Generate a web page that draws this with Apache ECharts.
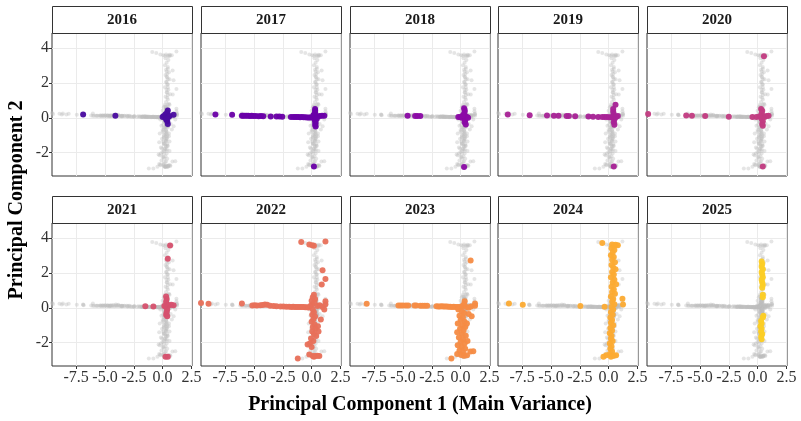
<!DOCTYPE html>
<html>
<head>
<meta charset="utf-8">
<script src="https://cdn.jsdelivr.net/npm/echarts@6/dist/echarts.min.js"></script>
<style>
  html, body { margin: 0; padding: 0; background: #fff; }
  #chart { width: 801px; height: 421px; }
</style>
</head>
<body>
<div id="chart"></div>
<script>
// facet labels and their colours
const years = ['2016', '2017', '2018', '2019', '2020', '2021', '2022', '2023', '2024', '2025'];
const yearColors = ['#4a0ca0', '#6a00a8', '#8b0aa5', '#a82296', '#c23b81', '#d6516e', '#e8705a', '#f68c45', '#fcab33', '#fcce25'];
const xTicks = [-7.5, -5, -2.5, 0, 2.5];
const yTicks = [-2, 0, 2, 4];

// [PC1, PC2] per year
const pts2016 = [[-6.9,0.19],[-4.1,0.12],[0.95,0.17],[0.1,0.1],[0.2,0.05],[0.3,0.0],[0.35,0.15],[0.4,0.3],[0.45,0.42],
  [0.3,-0.1],[0.4,-0.2],[0.45,-0.35],[0.25,0.2],[0.5,0.05],[0.6,0.1],[0.0,0.05],[0.35,-0.05]];
const pts2017 = [[-8.35,0.19],[-6.9,0.17],[-6.05,0.12],[-5.95,0.12],[-5.8,0.11],[-5.65,0.12],[-5.5,0.11],[-5.35,0.1],
  [-5.2,0.11],[-5.05,0.1],[-4.85,0.1],[-4.6,0.09],[-4.4,0.1],[-4.2,0.09],[-3.55,0.08],[-3.05,0.07],[-2.8,0.07],
  [-2.55,0.06],[-1.8,0.05],[-1.6,0.05],[-1.45,0.04],[-1.3,0.05],[-1.15,0.04],[-1.0,0.03],[-0.85,0.04],[-0.7,0.03],
  [-0.55,0.03],[-0.4,0.02],[-0.25,0.02],[-0.1,0.02],[0.05,0.01],[0.2,0.0],[0.35,0.05],[0.5,0.08],[0.7,0.1],
  [0.9,0.12],[1.1,0.12],[0.3,0.5],[0.3,0.4],[0.3,0.3],[0.25,0.2],[0.3,-0.1],[0.3,-0.2],[0.35,-0.3],[0.3,-0.4],
  [0.35,-0.5],[0.15,0.15],[0.45,-0.05],[0.2,-2.78]];
const pts2018 = [[-4.6,0.11],[-3.95,0.1],[-3.75,0.1],[-3.5,0.1],[-0.2,0.05],[-0.05,0.05],[0.1,0.0],[0.3,0.55],
  [0.35,0.45],[0.35,0.35],[0.3,0.2],[0.4,0.1],[0.35,-0.05],[0.4,-0.15],[0.35,-0.25],[0.45,-0.38],[0.55,0.05],
  [0.65,0.0],[0.2,0.15],[0.3,-2.82]];
const pts2019 = [[-8.75,0.19],[-6.85,0.15],[-5.35,0.13],[-4.75,0.12],[-4.35,0.11],[-3.65,0.1],[-3.45,0.1],[-2.9,0.09],
  [-1.75,0.07],[-1.35,0.06],[-0.9,0.05],[-0.55,0.05],[-0.35,0.04],[-0.15,0.04],[0.05,0.03],[0.25,0.03],[0.4,0.5],
  [0.4,0.35],[0.45,0.2],[0.4,0.05],[0.5,-0.1],[0.45,-0.25],[0.5,-0.4],[0.6,0.75],[0.8,0.1],[0.65,0.05],[0.45,-2.78]];
const pts2020 = [[-9.5,0.21],[-6.2,0.13],[-5.7,0.12],[-4.55,0.1],[-2.5,0.06],[-0.45,0.04],[-0.1,0.04],[0.55,3.52],
  [0.3,0.5],[0.4,0.4],[0.35,0.25],[0.45,0.1],[0.35,-0.05],[0.45,-0.2],[0.4,-0.35],[0.45,-0.45],[0.6,0.05],
  [0.8,0.1],[0.95,0.12],[0.15,0.08],[0.45,-2.78]];
const pts2021 = [[0.65,3.56],[0.45,2.8],[-1.5,0.09],[-0.8,0.07],[0.3,0.65],[0.35,0.5],[0.3,0.35],[0.35,0.2],[0.3,0.05],
  [0.4,-0.1],[0.35,-0.25],[0.3,-0.4],[0.4,-0.48],[0.55,0.15],[0.75,0.18],[0.95,0.15],[0.15,0.1],[0.25,-2.8],[0.45,-2.8]];
const pts2022 = [[-9.6,0.27],[-8.95,0.23],[-6.05,0.25],[-5.15,0.13],[-4.95,0.14],[-4.75,0.13],[-4.45,0.14],[-4.25,0.16],
  [-4.05,0.19],[-3.85,0.18],[-3.6,0.12],[-3.3,0.1],[-3.05,0.09],[-2.7,0.08],[-2.45,0.07],[-2.2,0.06],[-1.95,0.06],
  [-1.75,0.05],[-1.6,0.06],[-1.45,0.05],[-1.3,0.05],[-1.15,0.04],[-1.0,0.05],[-0.85,0.04],[-0.7,0.04],[-0.55,0.03],
  [-0.4,0.03],[-0.25,0.02],[-0.1,0.1],[0.05,0.2],[0.5,0.1],[0.7,0.15],[0.95,0.05],[1.2,0.2],[1.2,0.38],[1.1,-0.1],
  [-0.9,3.77],[-0.2,3.62],[0.05,3.58],[0.2,3.55],[1.2,3.79],[0.95,2.15],[1.2,1.65],[0.88,1.33],[0.2,0.75],[0.1,0.6],
  [0.3,0.5],[0.0,0.4],[0.25,0.3],[0.1,-0.1],[0.2,-0.25],[0.05,-0.4],[0.3,-0.5],[0.15,-0.65],[0.0,-0.8],[0.25,-0.95],
  [0.1,-1.1],[0.35,-1.2],[0.05,-1.35],[0.2,-1.5],[0.4,-1.62],[-0.05,-1.75],[0.15,-1.9],[-0.15,-2.05],[-0.35,-2.1],
  [0.0,-2.25],[0.8,-0.67],[0.55,-1.05],[0.6,-1.35],[-1.2,-2.9],[-0.2,-2.67],[0.1,-2.76],[0.3,-2.76],[0.5,-2.75],
  [0.67,-2.76],[0.2,-2.8]];
const pts2023 = [[-8.15,0.23],[-5.4,0.13],[-5.2,0.13],[-5.0,0.13],[-4.75,0.13],[-4.55,0.13],[-4.0,0.13],[-3.85,0.13],
  [-3.5,0.12],[-3.3,0.12],[-3.1,0.12],[-2.9,0.11],[-2.1,0.09],[-1.95,0.08],[-1.8,0.08],[-1.65,0.09],[-1.5,0.08],
  [-1.35,0.07],[-1.2,0.07],[-1.05,0.06],[-0.9,0.06],[-0.75,0.05],[-0.6,0.06],[-0.45,0.05],[-0.3,0.04],[-0.15,0.04],
  [0.0,0.03],[0.15,0.1],[0.35,0.38],[0.3,0.2],[0.5,0.05],[0.7,0.0],[0.9,0.08],[1.25,0.25],[1.25,0.12],[0.87,2.7],
  [-0.2,-0.1],[0.1,-0.2],[0.3,-0.3],[-0.1,-0.45],[0.2,-0.55],[0.0,-0.7],[0.35,-0.8],[-0.25,-0.9],[0.15,-1.0],
  [0.4,-1.1],[-0.05,-1.2],[0.25,-1.3],[-0.3,-1.4],[0.1,-1.5],[0.45,-1.6],[-0.15,-1.7],[0.2,-1.8],[0.0,-1.95],
  [0.35,-2.05],[-0.25,-2.15],[0.1,-2.25],[0.4,-2.35],[-0.1,-2.45],[0.2,-2.55],[-0.3,-2.65],[0.05,-2.7],[0.3,-2.75],
  [0.55,-2.72],[0.96,-0.48],[0.7,-0.35],[1.1,-2.48],[0.85,-2.5],[-0.8,-2.9],[0.6,-1.9],[0.55,-0.9]];
const pts2024 = [[-8.65,0.25],[-7.45,0.17],[-2.45,0.1],[-0.35,0.06],[-0.55,3.71],[1.2,0.51],[1.25,0.19],[0.8,3.58],
  [0.6,3.6],[0.3,3.62],[0.45,3.55],[0.25,3.4],[0.5,3.3],[0.35,3.15],[0.2,3.0],[0.45,2.9],[0.3,2.75],[0.55,2.6],
  [0.25,2.45],[0.4,2.3],[0.6,2.2],[0.3,2.05],[0.45,1.9],[0.2,1.75],[0.5,1.6],[0.35,1.45],[0.65,1.35],[0.25,1.2],
  [0.45,1.05],[0.3,0.9],[0.55,0.8],[0.2,0.65],[0.4,0.5],[0.3,0.35],[0.5,0.2],[0.25,0.05],[0.4,-0.1],[0.2,-0.25],
  [0.35,-0.4],[0.15,-0.55],[0.3,-0.7],[0.2,-0.85],[0.4,-1.0],[0.15,-1.15],[0.3,-1.3],[0.1,-1.45],[0.25,-1.6],
  [0.2,-1.75],[0.35,-1.9],[0.1,-2.05],[0.25,-2.2],[0.15,-2.35],[0.3,-2.5],[0.1,-2.65],[-0.2,-2.72],[-0.45,-2.8],
  [0.45,-2.75],[0.65,-2.72],[0.2,-2.8]];
const pts2025 = [[0.35,2.65],[0.4,2.5],[0.35,2.35],[0.45,2.2],[0.35,2.05],[0.4,1.9],[0.45,1.75],[0.35,1.6],[0.4,1.45],
  [0.45,1.3],[0.4,1.15],[0.45,0.75],[0.45,0.6],[0.5,-0.45],[0.45,-0.55],[0.3,-0.75],[0.35,-0.9],[0.25,-1.05],
  [0.35,-1.2],[0.3,-1.35],[0.4,-1.5],[0.3,-1.65],[0.35,-1.8]];

const yearPoints = [pts2016, pts2017, pts2018, pts2019, pts2020, pts2021, pts2022, pts2023, pts2024, pts2025];
// every year's points together, drawn grey behind each facet
const allPoints = [].concat(...yearPoints);

const chart = echarts.init(document.getElementById('chart'));

const panelLefts = [52, 201, 350, 498, 647];
const panelW = 140;
const stripTops = [6, 196];
const stripH = 27;
const plotTops = [33, 223];
const plotH = 143;
const serif = '"Liberation Serif", "DejaVu Serif", serif';

// hidden ticks still carry customValues so the grid lines follow them
const tickStyle = (shown) => ({
  show: true, length: shown ? 3 : 0,
  lineStyle: { color: shown ? '#333' : 'rgba(0,0,0,0)' }
});

const grids = [], xAxes = [], yAxes = [], series = [], graphics = [];

years.forEach((yr, i) => {
  const row = Math.floor(i / 5), col = i % 5;
  const left = panelLefts[col];
  grids.push({
    left: left, top: plotTops[row], width: panelW, height: plotH,
    show: true, borderColor: '#333', borderWidth: 1, backgroundColor: '#fff'
  });
  xAxes.push({
    type: 'value', gridIndex: i, min: -9.6, max: 2.55, position: 'bottom',
    axisLine: { show: false, onZero: false },
    axisTick: Object.assign(tickStyle(row === 1), { customValues: xTicks }),
    axisLabel: {
      show: row === 1, customValues: xTicks, margin: 4,
      fontFamily: serif, fontSize: 16, color: '#333',
      formatter: v => v.toFixed(1)
    },
    splitLine: { show: true, lineStyle: { color: '#ebebeb', width: 1 } }
  });
  yAxes.push({
    type: 'value', gridIndex: i, min: -3.33, max: 4.85, position: 'left',
    axisLine: { show: false, onZero: false },
    axisTick: Object.assign(tickStyle(col === 0), { customValues: yTicks }),
    axisLabel: {
      show: col === 0, customValues: yTicks, margin: 3,
      fontFamily: serif, fontSize: 16, color: '#333'
    },
    splitLine: { show: true, lineStyle: { color: '#ebebeb', width: 1 } }
  });
  series.push({
    type: 'scatter', xAxisIndex: i, yAxisIndex: i, data: allPoints,
    symbolSize: 4, silent: true,
    itemStyle: { color: '#bebebe', opacity: 0.4 }
  });
  series.push({
    type: 'scatter', xAxisIndex: i, yAxisIndex: i, data: yearPoints[i],
    symbolSize: 6, silent: true,
    itemStyle: { color: yearColors[i], opacity: 0.95 }
  });
  graphics.push({
    type: 'rect', silent: true, z: 100,
    shape: { x: left + 0.5, y: stripTops[row] + 0.5, width: panelW, height: stripH },
    style: { fill: '#fff', stroke: '#333', lineWidth: 1 }
  });
  graphics.push({
    type: 'text', silent: true, z: 101,
    x: left + panelW / 2, y: stripTops[row] + stripH / 2 + 1,
    style: { text: yr, font: 'bold 15px ' + serif, fill: '#1a1a1a', align: 'center', verticalAlign: 'middle' }
  });
});

graphics.push({
  type: 'text', silent: true, x: 420, y: 405,
  style: { text: 'Principal Component 1 (Main Variance)', font: 'bold 20px ' + serif, fill: '#000', align: 'center', verticalAlign: 'middle' }
});
graphics.push({
  type: 'text', silent: true, x: 17, y: 200, rotation: Math.PI / 2,
  style: { text: 'Principal Component 2', font: 'bold 20px ' + serif, fill: '#000', align: 'center', verticalAlign: 'middle' }
});

chart.setOption({
  animation: false,
  backgroundColor: '#fff',
  grid: grids,
  xAxis: xAxes,
  yAxis: yAxes,
  series: series,
  graphic: graphics
});
</script>
</body>
</html>
